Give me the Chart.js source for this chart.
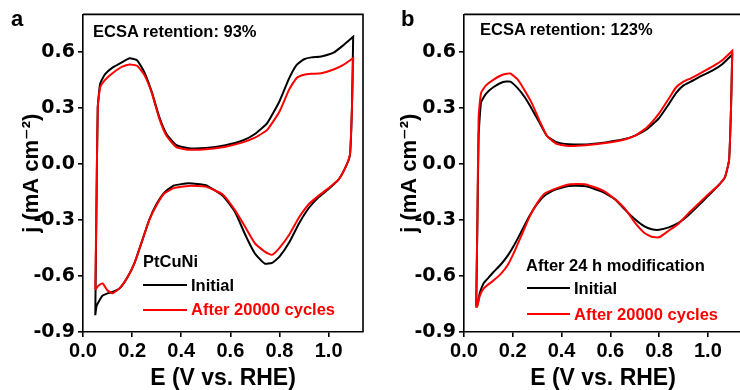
<!DOCTYPE html>
<html lang="en">
<head>
<meta charset="UTF-8">
<title>CV retention</title>
<script src="https://cdn.jsdelivr.net/npm/chart.js@4.4.1/dist/chart.umd.min.js"></script>
<style>
  body { margin: 0; width: 740px; height: 390px; overflow: hidden; background: #fff; position: relative;
         font-family: 'Liberation Sans', Arial, sans-serif; font-weight: bold; }
  canvas { position: absolute; top: 0; }
  .txt { position: absolute; line-height: 1; white-space: nowrap; font-size: 16.5px; color: #000; }
  .red { color: #ff0000; }
  .letter { font-size: 22px; }
  .key { position: absolute; height: 2px; }
</style>
</head>
<body>
<canvas id="chartA" width="370" height="390" style="left:0"></canvas>
<canvas id="chartB" width="372" height="390" style="left:370px"></canvas>

<div class="txt letter" style="left:11px; top:8px">a</div>
<div class="txt" style="left:93px; top:22.5px">ECSA retention: 93%</div>
<div class="txt" style="left:143px; top:252.5px">PtCuNi</div>
<div class="key" style="left:143px; top:284px; width:44px; background:#000"></div>
<div class="txt" style="left:191px; top:277px">Initial</div>
<div class="key" style="left:143px; top:308.5px; width:44px; background:#ff0000"></div>
<div class="txt red" style="left:191px; top:301px">After 20000 cycles</div>

<div class="txt letter" style="left:401px; top:8px">b</div>
<div class="txt" style="left:480px; top:21px">ECSA retention: 123%</div>
<div class="txt" style="left:526px; top:256.5px">After 24 h modification</div>
<div class="key" style="left:527px; top:286.5px; width:43px; background:#000"></div>
<div class="txt" style="left:574px; top:280px">Initial</div>
<div class="key" style="left:527px; top:312.5px; width:43px; background:#ff0000"></div>
<div class="txt red" style="left:574px; top:306px">After 20000 cycles</div>

<script>
// tick labels
const xTicks = [0, 0.2, 0.4, 0.6, 0.8, 1.0];
const yTicks = [-0.9, -0.6, -0.3, 0, 0.3, 0.6];

// potential grid (V vs. RHE): anodic sweep, then cathodic sweep back
const eFwd = [0.05, 0.055, 0.06, 0.07, 0.09, 0.12, 0.16, 0.19, 0.22, 0.25, 0.28, 0.31, 0.34, 0.38, 0.43,
              0.5, 0.58, 0.65, 0.7, 0.75, 0.8, 0.84, 0.87, 0.9, 0.93, 0.97, 1.02, 1.06, 1.1];
const eRev = [1.1, 1.095, 1.087, 1.07, 1.04, 1.0, 0.96, 0.92, 0.88, 0.84, 0.8, 0.77, 0.74, 0.7, 0.66, 0.62,
              0.57, 0.5, 0.43, 0.37, 0.33, 0.3, 0.27, 0.24, 0.21, 0.18, 0.15, 0.12, 0.1, 0.08, 0.065, 0.055, 0.05];

// panel a: PtCuNi (mA cm-2)
const aInitFwd = [-0.81, -0.2, 0.3, 0.43, 0.48, 0.515, 0.545, 0.565, 0.555, 0.49, 0.385, 0.253, 0.16, 0.1, 0.084,
                  0.085, 0.1, 0.125, 0.16, 0.218, 0.335, 0.46, 0.53, 0.56, 0.57, 0.575, 0.595, 0.635, 0.68];
const aInitRev = [0.68, 0.3, 0.05, -0.015, -0.085, -0.135, -0.178, -0.235, -0.318, -0.42, -0.497, -0.53, -0.534, -0.48,
                  -0.378, -0.26, -0.172, -0.114, -0.104, -0.116, -0.155, -0.214, -0.298, -0.415, -0.53, -0.61,
                  -0.665, -0.686, -0.693, -0.705, -0.735, -0.762, -0.81];
const aAgedFwd = [-0.67, -0.2, 0.3, 0.41, 0.45, 0.485, 0.52, 0.532, 0.525, 0.475, 0.38, 0.245, 0.15, 0.09, 0.076,
                  0.078, 0.092, 0.115, 0.14, 0.182, 0.28, 0.4, 0.46, 0.477, 0.482, 0.485, 0.505, 0.53, 0.566];
const aAgedRev = [0.566, 0.3, 0.05, -0.015, -0.085, -0.13, -0.17, -0.215, -0.286, -0.378, -0.45, -0.487, -0.47, -0.425,
                  -0.337, -0.25, -0.165, -0.122, -0.118, -0.13, -0.16, -0.22, -0.3, -0.415, -0.53, -0.61,
                  -0.665, -0.693, -0.678, -0.64, -0.65, -0.665, -0.675];

// panel b: after 24 h modification
const bInitFwd = [-0.76, -0.3, 0.15, 0.33, 0.375, 0.41, 0.438, 0.44, 0.405, 0.355, 0.29, 0.22, 0.15, 0.116, 0.105,
                  0.104, 0.115, 0.13, 0.15, 0.185, 0.245, 0.32, 0.38, 0.42, 0.44, 0.468, 0.5, 0.535, 0.585];
const bInitRev = [0.585, 0.3, 0.02, -0.072, -0.12, -0.172, -0.225, -0.275, -0.316, -0.34, -0.353, -0.35, -0.335, -0.295,
                  -0.245, -0.19, -0.151, -0.12, -0.118, -0.14, -0.17, -0.215, -0.275, -0.35, -0.425, -0.49,
                  -0.54, -0.58, -0.61, -0.64, -0.69, -0.755, -0.76];
const bAgedFwd = [-0.77, -0.3, 0.25, 0.38, 0.42, 0.45, 0.478, 0.484, 0.452, 0.39, 0.32, 0.23, 0.15, 0.107, 0.096,
                  0.1, 0.112, 0.128, 0.15, 0.195, 0.27, 0.35, 0.41, 0.44, 0.458, 0.486, 0.522, 0.556, 0.605];
const bAgedRev = [0.605, 0.3, 0.02, -0.07, -0.12, -0.165, -0.215, -0.265, -0.32, -0.357, -0.393, -0.39, -0.37, -0.313,
                  -0.24, -0.19, -0.143, -0.11, -0.11, -0.135, -0.16, -0.21, -0.28, -0.37, -0.46, -0.54,
                  -0.59, -0.625, -0.645, -0.668, -0.705, -0.76, -0.77];

const RED = '#ff0000';
const FONT = "'Liberation Sans', Arial, 'DejaVu Sans', sans-serif";
const WIDE = "'DejaVu Sans', 'Liberation Sans', sans-serif";

function loop(fwd, rev) {
  return eFwd.map((e, i) => ({ x: e, y: fwd[i] }))
    .concat(eRev.map((e, i) => ({ x: e, y: rev[i] })));
}

// top and right edges of the plot box
const frame = {
  id: 'frame',
  afterDraw(chart) {
    const { ctx, chartArea: a } = chart;
    ctx.save();
    ctx.strokeStyle = '#000';
    ctx.lineWidth = 1.6;
    ctx.beginPath();
    ctx.moveTo(a.left, a.top);
    ctx.lineTo(a.right, a.top);
    ctx.lineTo(a.right, a.bottom);
    ctx.stroke();
    ctx.restore();
  }
};

function line(label, data, color) {
  return { label, data, showLine: true, borderColor: color, borderWidth: 2, pointRadius: 0, tension: 0.15, fill: false };
}

function axisStyle() {
  return {
    grid: { display: true, drawOnChartArea: false, drawTicks: true, tickLength: 5, color: '#000', lineWidth: 1.6 },
    border: { display: true, color: '#000', width: 1.6 },
  };
}

function panel(id, initial, aged, yWidth, yTitlePad) {
  new Chart(document.getElementById(id), {
    type: 'scatter',
    data: {
      // first dataset is drawn on top
      datasets: [line('After 20000 cycles', aged, RED), line('Initial', initial, '#000')]
    },
    options: {
      responsive: false,
      animation: false,
      devicePixelRatio: 1,
      layout: { padding: { top: 14, right: id === 'chartA' ? 7 : 0, left: 0, bottom: 0 } },
      plugins: { legend: { display: false }, tooltip: { enabled: false } },
      scales: {
        x: {
          type: 'linear', min: 0, max: 1.14,
          afterBuildTicks: s => { s.ticks = xTicks.map(v => ({ value: v })); },
          afterFit: s => { s.height = 58; },
          ticks: { color: '#000', padding: 2, maxRotation: 0, font: { family: FONT, size: 20, weight: 'bold' },
                   callback: v => v.toFixed(1) },
          title: { display: true, text: 'E (V vs. RHE)', color: '#000', padding: { top: 0, bottom: 0 },
                   font: { family: FONT, size: 23, weight: 'bold', lineHeight: 1 } },
          ...axisStyle()
        },
        y: {
          type: 'linear', min: -0.9, max: 0.8,
          afterBuildTicks: s => { s.ticks = yTicks.map(v => ({ value: v })); },
          afterFit: s => { s.width = yWidth; },
          ticks: { color: '#000', padding: 3, font: { family: WIDE, size: 19, weight: 'bold' },
                   callback: v => v.toFixed(1) },
          title: { display: true, text: 'j (mA cm\u207B\u00B2)', color: '#000', padding: { top: yTitlePad, bottom: 0 },
                   font: { family: FONT, size: 22, weight: 'bold', lineHeight: 1 } },
          ...axisStyle()
        }
      }
    },
    plugins: [frame]
  });
}

panel('chartA', loop(aInitFwd, aInitRev), loop(aAgedFwd, aAgedRev), 83, 21);
panel('chartB', loop(bInitFwd, bInitRev), loop(bAgedFwd, bAgedRev), 94, 29);
</script>
</body>
</html>
